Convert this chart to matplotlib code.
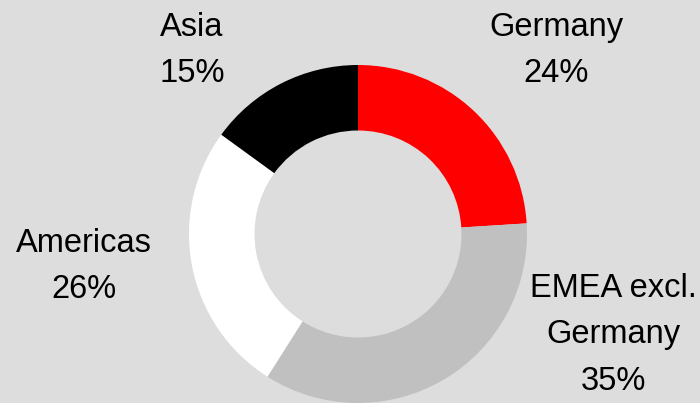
import matplotlib
matplotlib.use("Agg")
import matplotlib.pyplot as plt

plt.rcParams["font.family"] = ["Liberation Sans", "DejaVu Sans"]

# regional split of sales
regions = ["Germany", "EMEA excl.\nGermany", "Americas", "Asia"]
shares = [24, 35, 26, 15]
colors = ["#ff0000", "#c0c0c0", "#ffffff", "#000000"]

# label anchor (x centre, baseline of first line) in pixel space
label_pos = [(556, 36), (613, 297), (84, 252), (192, 36)]
line_step = 46.5

bg = "#dddddd"
fig = plt.figure(figsize=(7, 4.03), dpi=100, facecolor=bg)
ax = fig.add_axes([0, 0, 1, 1])
ax.set_facecolor(bg)

# y axis is inverted (pixel space), so counterclock=True draws clockwise on screen
ax.pie(shares, colors=colors, startangle=-90, counterclock=True,
       center=(358, 234), radius=169,
       wedgeprops=dict(width=65.5, edgecolor="none", linewidth=0))

ax.set_xlim(0, 700)
ax.set_ylim(403, 0)
ax.set_aspect("auto")
ax.axis("off")

for name, val, (x, y) in zip(regions, shares, label_pos):
    lines = name.split("\n") + ["%d%%" % val]
    for i, line in enumerate(lines):
        ax.text(x, y + i * line_step, line, ha="center", va="baseline",
                fontsize=23.5, color="black")

fig.savefig("out.png", dpi=100, facecolor=bg)
